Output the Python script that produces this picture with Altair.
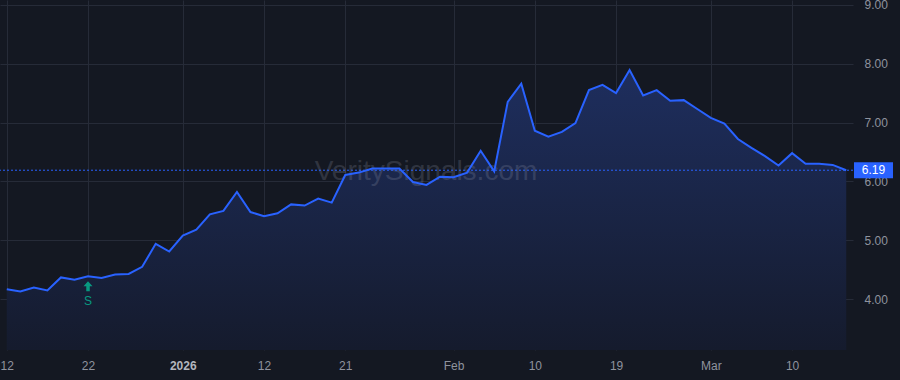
import altair as alt
import pandas as pd

# ---------------- data ----------------
dates = [
    "2025-12-12", "2025-12-15", "2025-12-16", "2025-12-17", "2025-12-18", "2025-12-19",
    "2025-12-22", "2025-12-23", "2025-12-24", "2025-12-26", "2025-12-29", "2025-12-30",
    "2025-12-31",
    "2026-01-02", "2026-01-05", "2026-01-06", "2026-01-07", "2026-01-08", "2026-01-09",
    "2026-01-12", "2026-01-13", "2026-01-14", "2026-01-15", "2026-01-16", "2026-01-20",
    "2026-01-21", "2026-01-22", "2026-01-23", "2026-01-26", "2026-01-27", "2026-01-28",
    "2026-01-29", "2026-01-30",
    "2026-02-02", "2026-02-03", "2026-02-04", "2026-02-05", "2026-02-06", "2026-02-09",
    "2026-02-10", "2026-02-11", "2026-02-12", "2026-02-13", "2026-02-17", "2026-02-18",
    "2026-02-19", "2026-02-20", "2026-02-23", "2026-02-24", "2026-02-25", "2026-02-26",
    "2026-02-27",
    "2026-03-02", "2026-03-03", "2026-03-04", "2026-03-05", "2026-03-06", "2026-03-09",
    "2026-03-10", "2026-03-11", "2026-03-12", "2026-03-13", "2026-03-16",
]
prices = [
    4.17, 4.13, 4.20, 4.15, 4.37, 4.33, 4.39, 4.36, 4.42, 4.43, 4.55, 4.94, 4.81,
    5.08, 5.18, 5.44, 5.50, 5.82, 5.48, 5.41, 5.46, 5.61, 5.59, 5.71, 5.64, 6.11,
    6.15, 6.22, 6.22, 6.22, 5.99, 5.94, 6.08,
    6.07, 6.15, 6.52, 6.17, 7.35, 7.66, 6.86, 6.76, 6.84, 6.99, 7.55, 7.64, 7.50,
    7.89, 7.46, 7.55, 7.37, 7.38, 7.23,
    7.08, 6.98, 6.72, 6.57, 6.43, 6.27, 6.48, 6.30, 6.30, 6.28, 6.19,
]
tick_idx = [0, 6, 13, 19, 25, 33, 39, 45, 52, 58]
tick_labels = ["12", "22", "2026", "12", "21", "Feb", "10", "19", "Mar", "10"]
bold_tick = 13
y_ticks = [4, 5, 6, 7, 8, 9]
last_price = [6.19]
signal_date = ["2025-12-22"]
signal_text = ["S"]
watermark = ["VeritySignals.com"]

# ---------------- styling ----------------
BG = "#141822"
GRID = "#262b38"
LINE = "#2962ff"
LABEL = "#8f939e"
SIGNAL = "#089981"
FONT = "Liberation Sans"

df = pd.DataFrame({"date": dates, "price": prices})
df["i"] = range(len(df))
sig_df = df[df["date"].isin(signal_date)].copy()
sig_df["label"] = signal_text[0]
last_df = pd.DataFrame({"price": last_price, "label": [f"{p:.2f}" for p in last_price]})
wm_df = pd.DataFrame({"text": watermark})

Y_MIN, Y_MAX = 3.138, 9.08
x_scale = alt.Scale(domain=[-0.5, len(df) - 0.5], nice=False, zero=False)
y_scale = alt.Scale(domain=[Y_MIN, Y_MAX], nice=False, zero=False)

idx_list = "[" + ",".join(str(v) for v in tick_idx) + "]"
lab_list = "[" + ",".join(f"'{s}'" for s in tick_labels) + "]"

x_axis = alt.Axis(
    values=tick_idx,
    labelExpr=f"{lab_list}[indexof({idx_list}, datum.value)]",
    title=None, domain=False, ticks=False, grid=True, gridColor=GRID, gridWidth=1,
    labelColor={"condition": {"test": f"datum.value == {bold_tick}", "value": "#b2b5be"}, "value": LABEL},
    labelFontWeight={"condition": {"test": f"datum.value == {bold_tick}", "value": "bold"}, "value": "normal"},
    labelFont=FONT, labelFontSize=12, labelPadding=10, labelFlush=False, labelOverlap=False,
)
y_axis = alt.Axis(
    values=y_ticks, format=".2f", orient="right", title=None, domain=False, ticks=False,
    grid=True, gridColor=GRID, gridWidth=1, labelColor=LABEL, labelFont=FONT,
    labelFontSize=12, labelPadding=11, labelAlign="left",
)

X = alt.X("i:Q", scale=x_scale, axis=x_axis)
Y = alt.Y("price:Q", scale=y_scale, axis=y_axis)

area = alt.Chart(df).mark_area(
    color=alt.Gradient(
        gradient="linear",
        stops=[alt.GradientStop(color="#1e2e5e", offset=0),
               alt.GradientStop(color="#151b2d", offset=1)],
        x1=1, x2=1, y1=0, y2=1,
    )
).encode(x=X, y=Y, y2=alt.datum(Y_MIN))

wm = alt.Chart(wm_df).mark_text(
    fontSize=28, font=FONT, color="#a0a6b8", opacity=0.2, align="center", baseline="middle"
).encode(x=alt.value(426), y=alt.value(172), text="text:N")

line = alt.Chart(df).mark_line(color=LINE, strokeWidth=2).encode(x=X, y=Y)

price_rule = alt.Chart(last_df).mark_rule(
    color=LINE, strokeWidth=1, strokeDash=[2, 2]
).encode(y=Y)

price_box = alt.Chart(last_df).mark_tick(
    orient="horizontal", color=LINE, thickness=16, size=39, opacity=1
).encode(x=alt.value(873.5), y=Y)

price_text = alt.Chart(last_df).mark_text(
    color="#ffffff", fontSize=12, font=FONT, align="center", baseline="middle"
).encode(x=alt.value(873.5), y=Y, text="label:N")

arrow = alt.Chart(sig_df).mark_point(
    shape="M-0.9,0 L0,-1 L0.9,0 L0.35,0 L0.35,1 L-0.35,1 L-0.35,0 Z",
    size=100, filled=True, color=SIGNAL, opacity=1, yOffset=10,
).encode(x=X, y=Y)

sig_text = alt.Chart(sig_df).mark_text(
    color=SIGNAL, fontSize=12, font=FONT, align="center", baseline="middle", dy=25
).encode(x=X, y=Y, text="label:N")

chart = alt.layer(
    area, wm, line, price_rule, arrow, sig_text, price_box, price_text
).properties(
    width=853, height=350,
    padding={"left": 0, "top": 0, "right": 47, "bottom": 30},
    autosize=alt.AutoSizeParams(type="none"),
    background=BG,
).configure_view(stroke=None, fill=BG)

chart.save("out.html", embed_options={"renderer": "svg", "actions": False})
